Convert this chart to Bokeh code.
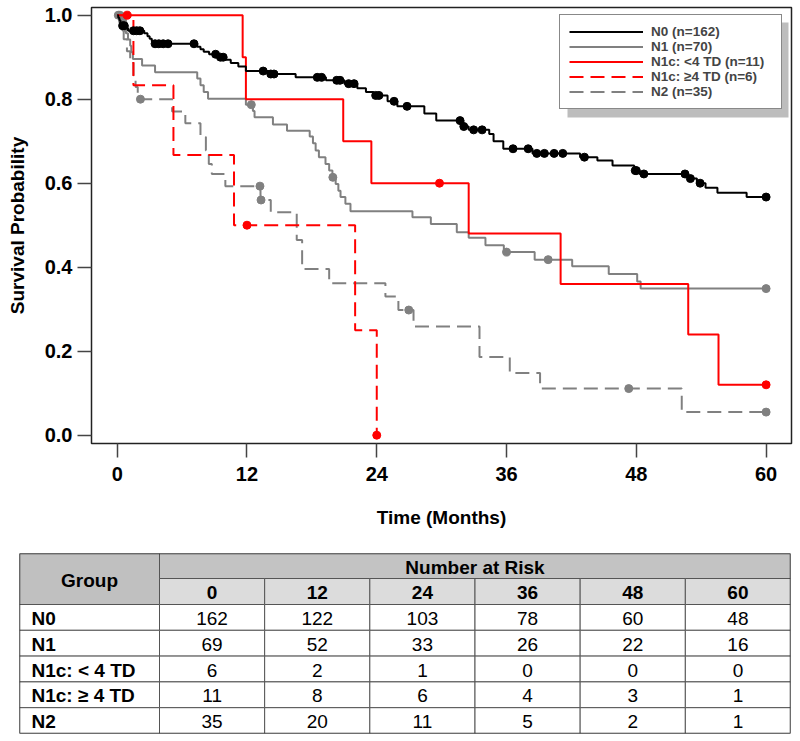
from bokeh.plotting import figure
from bokeh.models import Range1d, FixedTicker, Legend, LegendItem, PrintfTickFormatter
from bokeh.layouts import column
from bokeh.embed import file_html
from bokeh.resources import INLINE
from bokeh.core.properties import value

FONT = "Liberation Sans"

# ---------------- data ----------------
X_TICKS = [0, 12, 24, 36, 48, 60]
Y_TICKS = [0.0, 0.2, 0.4, 0.6, 0.8, 1.0]

N0_T = [0.1, 0.2, 0.3, 0.45, 0.8, 1.0, 2.5, 2.8, 3.0, 3.2, 3.4, 7.4, 7.7, 8.0, 8.5, 9.3, 9.9, 10.5, 11.2, 11.9,
        14.0, 16.5, 19.3, 21.0, 22.2, 23.0, 23.7, 25.0, 25.9, 28.4, 29.5, 32.0, 32.5, 34.4, 34.8, 35.7, 38.4,
        42.8, 44.4, 45.8, 47.8, 48.3, 52.8, 53.6, 54.4, 55.5, 58.2]
N0_S = [0.994, 0.988, 0.981, 0.975, 0.969, 0.963, 0.957, 0.950, 0.944, 0.938, 0.932, 0.925, 0.919, 0.913, 0.907,
        0.900, 0.894, 0.886, 0.878, 0.867, 0.860, 0.852, 0.845, 0.837, 0.826, 0.817, 0.809, 0.795, 0.783, 0.766,
        0.749, 0.735, 0.727, 0.717, 0.700, 0.682, 0.671, 0.662, 0.654, 0.642, 0.630, 0.622, 0.611, 0.600, 0.589,
        0.577, 0.567]
N0_C = [0.5, 0.65, 1.5, 1.8, 2.1, 3.5, 3.85, 4.25, 4.7, 7.1, 9.1, 9.55, 9.8, 13.5, 14.2, 14.5, 18.5, 18.9, 20.3,
        20.6, 21.4, 21.9, 23.9, 24.2, 25.6, 26.8, 31.7, 32.05, 32.96, 33.74, 36.6, 38.0, 38.8, 39.5, 40.4, 41.2,
        43.2, 47.9, 48.0, 48.7, 52.5, 53.0, 53.9, 60.0]

N1_T = [0.3, 0.6, 0.8, 1.0, 1.2, 1.3, 1.45, 2.3, 3.5, 7.4, 7.7, 8.0, 8.4, 11.9, 12.55, 12.7, 14.4, 15.7, 17.8,
        18.1, 18.35, 18.65, 19.26, 19.6, 19.9, 20.2, 20.45, 20.65, 21.1, 21.57, 27.3, 29.0, 31.4, 32.5, 34.05,
        35.75, 38.6, 42.07, 45.45, 48.08, 48.4]
N1_S = [0.986, 0.971, 0.957, 0.942, 0.927, 0.912, 0.896, 0.880, 0.864, 0.849, 0.833, 0.817, 0.801, 0.787, 0.772,
        0.757, 0.740, 0.725, 0.711, 0.695, 0.678, 0.662, 0.646, 0.630, 0.614, 0.598, 0.582, 0.567, 0.551, 0.533,
        0.519, 0.503, 0.483, 0.470, 0.452, 0.436, 0.418, 0.402, 0.384, 0.366, 0.349]
N1_C = [0.1, 0.25, 0.5, 0.7, 12.4, 19.94, 36.0, 39.85, 60.0]

R1_T = [11.6, 11.9, 20.9, 23.5, 32.5, 41.0, 52.8, 55.6]
R1_S = [0.9, 0.8, 0.7, 0.6, 0.48, 0.36, 0.24, 0.12]
R1_C = [0.92, 29.8, 60.0]

R2_T = [1.5, 5.2, 10.8, 22.0, 24.0]
R2_S = [0.833, 0.667, 0.5, 0.25, 0.0]
R2_C = [12.0, 24.0]

N2_T = [0.3, 0.6, 0.9, 1.2, 1.5, 1.7, 1.9, 5.08, 6.3, 7.7, 8.2, 8.47, 8.75, 10.0, 13.25, 14.2, 16.6, 17.1, 19.6,
        24.8, 26.0, 27.4, 33.5, 36.3, 39.1, 52.2]
N2_S = [0.971, 0.943, 0.914, 0.886, 0.857, 0.829, 0.800, 0.771, 0.743, 0.710, 0.678, 0.646, 0.622, 0.593, 0.560,
        0.531, 0.465, 0.396, 0.362, 0.330, 0.298, 0.259, 0.186, 0.148, 0.111, 0.055]
N2_C = [2.15, 13.2, 13.3, 26.96, 47.3, 60.0]

LEGEND_LABELS = ["N0 (n=162)", "N1 (n=70)", "N1c: <4 TD (n=11)", "N1c: \u22654 TD (n=6)", "N2 (n=35)"]

TABLE_GROUPS = ["N0", "N1", "N1c: < 4 TD", "N1c: \u2265 4 TD", "N2"]
TABLE_TIMES = ["0", "12", "24", "36", "48", "60"]
AT_RISK = [
    [162, 122, 103, 78, 60, 48],
    [69, 52, 33, 26, 22, 16],
    [6, 2, 1, 0, 0, 0],
    [11, 8, 6, 4, 3, 1],
    [35, 20, 11, 5, 2, 1],
]

# ---------------- styles ----------------
BLACK, GRAY, RED = "#000000", "#808080", "#ff0000"
DASH = "14 7"
series = [
    (N2_T, N2_S, N2_C, GRAY, DASH, 60.0, 4),
    (N1_T, N1_S, N1_C, GRAY, "solid", 60.0, 1),
    (R2_T, R2_S, R2_C, RED, DASH, 24.0, 3),
    (R1_T, R1_S, R1_C, RED, "solid", 60.0, 2),
    (N0_T, N0_S, N0_C, BLACK, "solid", 60.0, 0),
]

W = 796
H1 = 550
FL, FR, FT, FB = 91, 5, 7, 107  # borders of KM plot
PX_PER_MONTH = 10.815
PX_PER_UNIT = 420.0
X0 = -(116.7 - FL) / PX_PER_MONTH
X1 = X0 + (W - FL - FR) / PX_PER_MONTH
Y0 = -((H1 - FB) - 434.7) / PX_PER_UNIT
Y1 = Y0 + (H1 - FT - FB) / PX_PER_UNIT

p = figure(width=W, height=H1, x_range=Range1d(X0, X1), y_range=Range1d(Y0, Y1),
           output_backend="svg", toolbar_location=None,
           min_border_left=FL, min_border_right=FR, min_border_top=FT, min_border_bottom=FB)
p.xgrid.grid_line_color = None
p.ygrid.grid_line_color = None
p.outline_line_color = "#222222"
p.outline_line_width = 1.5
p.background_fill_color = "white"
p.border_fill_color = "white"

p.xaxis.ticker = FixedTicker(ticks=X_TICKS)
p.yaxis.ticker = FixedTicker(ticks=Y_TICKS)
p.yaxis.formatter = PrintfTickFormatter(format="%.1f")
p.xaxis.axis_label = "Time (Months)"
p.yaxis.axis_label = "Survival Probability"
for ax in (p.xaxis[0], p.yaxis[0]):
    ax.axis_line_color = None
    ax.major_tick_line_color = "#444444"
    ax.major_tick_line_width = 1.5
    ax.major_tick_in = 0
    ax.major_tick_out = 14
    ax.minor_tick_line_color = None
    ax.major_label_text_font = FONT
    ax.major_label_text_font_style = "bold"
    ax.major_label_text_font_size = "20px"
    ax.major_label_text_color = "black"
    ax.axis_label_text_font = FONT
    ax.axis_label_text_font_style = "bold"
    ax.axis_label_text_font_size = "19px"
    ax.axis_label_text_color = "black"
p.xaxis.major_label_standoff = 9
p.xaxis.axis_label_standoff = 23
p.yaxis.major_label_standoff = 5
p.yaxis.axis_label_standoff = 14


def surv_at(times, surv, t):
    s = 1.0
    for ti, si in zip(times, surv):
        if ti <= t:
            s = si
    return s


# legend shadow (screen geometry converted through the plot scales)
def sx2x(sx):
    return X0 + (sx - FL) / PX_PER_MONTH


def sy2y(sy):
    return Y1 - (sy - FT) / PX_PER_UNIT


LEG_L, LEG_T, LEG_R, LEG_B = 559, 14, 780, 109
SH = 8
p.quad(left=[sx2x(LEG_L + SH)], right=[sx2x(LEG_R + SH)], top=[sy2y(LEG_T + SH)], bottom=[sy2y(LEG_B + SH)],
       fill_color="#bdbdbd", line_color=None)

renderers = {}
for times, surv, cens, color, dash, end, idx in series:
    xs = [0.0] + list(times) + [end]
    ys = [1.0] + list(surv) + [surv[-1]]
    r = p.step(xs, ys, mode="after", line_color=color, line_width=2, line_dash=dash)
    renderers[idx] = r
    cy = [surv_at(times, surv, c) for c in cens]
    p.scatter(cens, cy, size=8, fill_color=color, line_color=color)

legend = Legend(items=[LegendItem(label=LEGEND_LABELS[i], renderers=[renderers[i]]) for i in range(5)],
                location=(LEG_L - FL, (H1 - FB) - LEG_B))
legend.glyph_width = 74
legend.glyph_height = 15
legend.label_height = 15
legend.label_width = 121
legend.spacing = 0
legend.padding = 9
legend.margin = 0
legend.label_standoff = 8
legend.border_line_color = "#111111"
legend.border_line_width = 1.5
legend.background_fill_alpha = 1.0
legend.background_fill_color = "white"
legend.label_text_font = '"Liberation Sans"'
legend.label_text_font_style = "bold"
legend.label_text_font_size = "13.5px"
p.add_layout(legend)

# ---------------- number-at-risk table ----------------
H2 = 185
TL, TR, TT = 19, 6, 3
TW = W - TL - TR
TH = 180
GROUP_W = 140
NCOL = len(TABLE_TIMES)
COL_W = (TW - GROUP_W) / NCOL
HDR1 = 25
HDR2 = 26
ROW_H = (TH - HDR1 - HDR2) / len(TABLE_GROUPS)

t = figure(width=W, height=H2, x_range=Range1d(0, TW), y_range=Range1d(TH, 0),
           output_backend="svg", toolbar_location=None, x_axis_location=None, y_axis_location=None,
           min_border_left=TL, min_border_right=TR, min_border_top=TT, min_border_bottom=H2 - TT - TH)
t.xgrid.grid_line_color = None
t.ygrid.grid_line_color = None
t.outline_line_color = None

LINE = "#555555"
# header cells
t.quad(left=[0], right=[GROUP_W], top=[0], bottom=[HDR1 + HDR2], fill_color="#c0c0c0", line_color=LINE)
t.quad(left=[GROUP_W], right=[TW], top=[0], bottom=[HDR1], fill_color="#c3c3c3", line_color=LINE)
col_l = [GROUP_W + i * COL_W for i in range(NCOL)]
t.quad(left=col_l, right=[c + COL_W for c in col_l], top=[HDR1] * NCOL, bottom=[HDR1 + HDR2] * NCOL,
       fill_color="#dcdcdc", line_color=LINE)
# body cells
bl, br, bt, bb = [], [], [], []
for r in range(len(TABLE_GROUPS)):
    top = HDR1 + HDR2 + r * ROW_H
    bl.append(0); br.append(GROUP_W); bt.append(top); bb.append(top + ROW_H)
    for c in range(NCOL):
        bl.append(col_l[c]); br.append(col_l[c] + COL_W); bt.append(top); bb.append(top + ROW_H)
t.quad(left=bl, right=br, top=bt, bottom=bb, fill_color="white", line_color=LINE)
# outer border
t.quad(left=[0], right=[TW], top=[0], bottom=[TH], fill_color=None, line_color="#333333", line_width=1.5)

bold = dict(text_font=value(FONT), text_font_style="bold", text_font_size="19px", text_color="black",
            text_baseline="middle")
t.text(x=[GROUP_W / 2], y=[(HDR1 + HDR2) / 2 + 1], text=["Group"], text_align="center", **bold)
t.text(x=[(GROUP_W + TW) / 2], y=[HDR1 / 2 + 1], text=["Number at Risk"], text_align="center", **bold)
t.text(x=[c + COL_W / 2 for c in col_l], y=[HDR1 + HDR2 / 2 + 1] * NCOL, text=TABLE_TIMES,
       text_align="center", **bold)
row_y = [HDR1 + HDR2 + (r + 0.5) * ROW_H + 1 for r in range(len(TABLE_GROUPS))]
t.text(x=[12] * len(TABLE_GROUPS), y=row_y, text=TABLE_GROUPS, text_align="left", **bold)
vx, vy, vt = [], [], []
for r, row in enumerate(AT_RISK):
    for c, v in enumerate(row):
        vx.append(col_l[c] + COL_W / 2); vy.append(row_y[r]); vt.append(str(v))
t.text(x=vx, y=vy, text=vt, text_align="center", text_baseline="middle", text_font=value(FONT),
       text_font_size="19px", text_color="black")

layout = column(column(p), column(t), spacing=0)
open("out.html", "w").write(file_html(layout, INLINE))
